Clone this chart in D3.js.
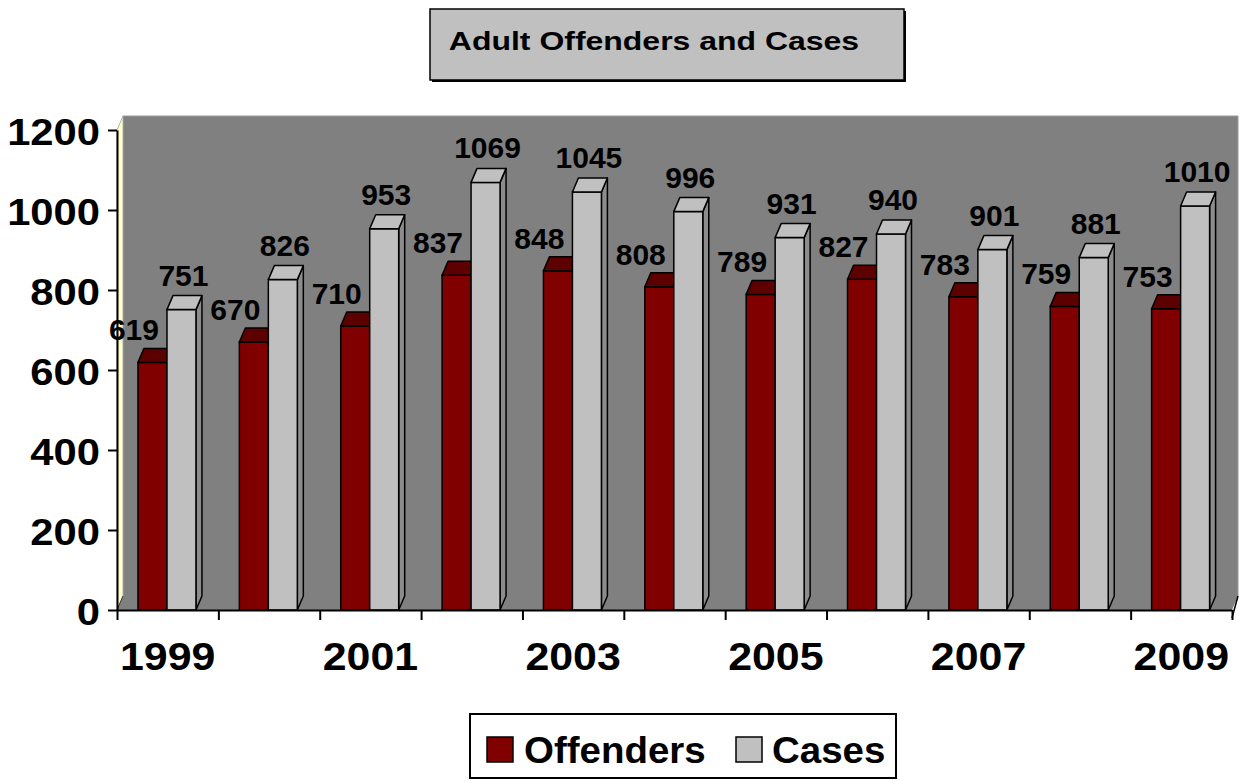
<!DOCTYPE html>
<html>
<head>
<meta charset="utf-8">
<script src="https://cdn.jsdelivr.net/npm/d3@7/dist/d3.min.js"></script>
<style>
  html, body { margin: 0; padding: 0; background: #fff; }
  svg { display: block; }
  text { font-family: "Liberation Sans", Arial, Helvetica, sans-serif; font-weight: bold; fill: #000; }
</style>
</head>
<body>
<svg id="chart" width="1245" height="781"></svg>
<script>
// ---- data ----
const years = ["1999","2000","2001","2002","2003","2004","2005","2006","2007","2008","2009"];
const seriesNames = ["Offenders", "Cases"];
const offenders = [619, 670, 710, 837, 848, 808, 789, 827, 783, 759, 753];
const cases = [751, 826, 953, 1069, 1045, 996, 931, 940, 901, 881, 1010];
const yTicks = [0, 200, 400, 600, 800, 1000, 1200];
const xLabelYears = ["1999","2001","2003","2005","2007","2009"];
const titleText = "Adult Offenders and Cases";

// ---- layout ----
const svg = d3.select("#chart");
const X0 = 117, X1 = 1232, Y0 = 610, Y1 = 130;
const DX = 6, DY = -14;
const colors = { Offenders: {front:"#800000", top:"#5c0000", side:"#4a0000"},
                 Cases: {front:"#C0C0C0", top:"#C0C0C0", side:"#8c8c8c"} };

const x0 = d3.scaleBand().domain(years).range([X0, X1]).paddingInner(0).paddingOuter(0);
const bw = x0.bandwidth();
const x1 = d3.scaleBand().domain(seriesNames).range([0.207 * bw, 0.779 * bw]).padding(0);
const y = d3.scaleLinear().domain([0, 1200]).range([Y0, Y1]);

// ---- walls ----
const wallTop = y(1200) + DY, wallBot = Y0 + DY;
// back wall + floor (same grey)
svg.append("polygon")
  .attr("points", [[X0+DX, wallTop],[X1+DX, wallTop],[X1+DX, wallBot],[X1, Y0],[X0, Y0],[X0+DX, wallBot]].join(" "))
  .attr("fill", "#808080");
svg.append("polyline")
  .attr("points", [[X0+DX, wallBot],[X0+DX, wallTop],[X1+DX, wallTop],[X1+DX, wallBot]].join(" "))
  .attr("fill", "none").attr("stroke", "#9a9a9a").attr("stroke-width", 1);
// side wall
svg.append("polygon")
  .attr("points", [[X0, Y1],[X0+DX, wallTop],[X0+DX, wallBot],[X0, Y0]].join(" "))
  .attr("fill", "#FFFFCC").attr("stroke", "#a0a0a0").attr("stroke-width", 0.8);
// floor edges
svg.append("line").attr("x1", X0).attr("y1", Y0).attr("x2", X0+DX).attr("y2", wallBot)
  .attr("stroke", "#333").attr("stroke-width", 1);
svg.append("line").attr("x1", X1).attr("y1", Y0 + 8).attr("x2", X1+DX).attr("y2", wallBot)
  .attr("stroke", "#000").attr("stroke-width", 1.5);

// ---- bars ----
const data = years.map((yr, i) => ({ year: yr, Offenders: offenders[i], Cases: cases[i] }));

function drawBar(g, left, w, v, c, withSide) {
  const top = y(v), bot = Y0;
  const r = left + w;
  if (withSide) {
    g.append("polygon")
      .attr("points", [[r, top],[r+DX, top+DY],[r+DX, bot+DY],[r, bot]].join(" "))
      .attr("fill", c.side).attr("stroke", "#000").attr("stroke-width", 1.5).attr("stroke-linejoin", "round");
  }
  g.append("rect")
    .attr("x", left).attr("y", top).attr("width", w).attr("height", bot - top)
    .attr("fill", c.front).attr("stroke", "#000").attr("stroke-width", 1.5);
  g.append("polygon")
    .attr("points", [[left, top],[left+DX, top+DY],[r+DX, top+DY],[r, top]].join(" "))
    .attr("fill", c.top).attr("stroke", "#000").attr("stroke-width", 1.5).attr("stroke-linejoin", "round");
}

const barsG = svg.append("g");
data.forEach(d => {
  const g = barsG.append("g");
  drawBar(g, x0(d.year) + x1("Offenders"), x1.bandwidth(), d.Offenders, colors.Offenders, false);
  drawBar(g, x0(d.year) + x1("Cases"), x1.bandwidth(), d.Cases, colors.Cases, true);
});

// ---- axes ----
function stretch(sel, s) {
  sel.each(function() {
    const t = d3.select(this);
    const xx = +t.attr("x") || 0;
    t.attr("transform", `translate(${xx},0) scale(${s},1) translate(${-xx},0)`);
  });
}

const yAxis = d3.axisLeft(y).tickValues(yTicks).tickFormat(d3.format("d"))
  .tickSize(9).tickSizeOuter(0).tickPadding(8);
const yg = svg.append("g").attr("transform", `translate(${X0},0)`).call(yAxis);
yg.attr("font-family", null);
yg.select(".domain").attr("stroke", "#000").attr("stroke-width", 2);
yg.selectAll(".tick line").attr("stroke", "#000").attr("stroke-width", 2);
yg.selectAll(".tick text").style("font-size", "36px")
  .attr("fill", "#000").attr("dy", "0.39em");
stretch(yg.selectAll(".tick text"), 1.16);

const xIdx = d3.scaleLinear().domain([0, years.length]).range([X0, X1]);
const xAxis = d3.axisBottom(xIdx).tickValues(d3.range(0, years.length + 1)).tickSize(10).tickSizeOuter(0).tickFormat("");
const xg = svg.append("g").attr("transform", `translate(0,${Y0})`).call(xAxis);
xg.select(".domain").attr("stroke", "#000").attr("stroke-width", 2);
xg.selectAll(".tick line").attr("stroke", "#000").attr("stroke-width", 2);

const xl = svg.append("g").selectAll("text").data(xLabelYears).join("text")
  .attr("x", d => x0(d) + bw / 2).attr("y", 670)
  .attr("text-anchor", "middle").style("font-size", "39px").text(d => d);
stretch(xl, 1.1);

// ---- data labels ----
const lab = svg.append("g");
data.forEach(d => {
  const cl = x0(d.year) + x1("Cases");
  lab.append("text")
    .attr("x", cl - 8).attr("y", y(d.Offenders) - 22)
    .attr("text-anchor", "end").style("font-size", "30px").text(d.Offenders);
  lab.append("text")
    .attr("x", cl + x1.bandwidth() / 2 + 2).attr("y", y(d.Cases) - 24)
    .attr("text-anchor", "middle").style("font-size", "30px").text(d.Cases);
});

// ---- title ----
svg.append("rect").attr("x", 432).attr("y", 11).attr("width", 474).attr("height", 71).attr("fill", "#000");
svg.append("rect").attr("x", 430).attr("y", 9).attr("width", 474).attr("height", 71)
  .attr("fill", "#C0C0C0").attr("stroke", "#000").attr("stroke-width", 1.5);
const tt = svg.append("text").attr("x", 654).attr("y", 50).attr("text-anchor", "middle")
  .style("font-size", "26px").text(titleText);
stretch(tt, 1.23);

// ---- legend ----
const lg = svg.append("g");
lg.append("rect").attr("x", 470).attr("y", 714).attr("width", 426).attr("height", 64)
  .attr("fill", "#fff").attr("stroke", "#000").attr("stroke-width", 2);
const legendItems = [
  { name: seriesNames[0], sx: 487, tx: 524 },
  { name: seriesNames[1], sx: 736, tx: 772 }
];
legendItems.forEach(it => {
  lg.append("rect").attr("x", it.sx).attr("y", 737).attr("width", 26).attr("height", 25)
    .attr("fill", colors[it.name].front).attr("stroke", "#000").attr("stroke-width", 1.5);
  const t = lg.append("text").attr("x", it.tx).attr("y", 763).style("font-size", "37px").text(it.name);
  stretch(t, 1.04);
});
</script>
</body>
</html>
